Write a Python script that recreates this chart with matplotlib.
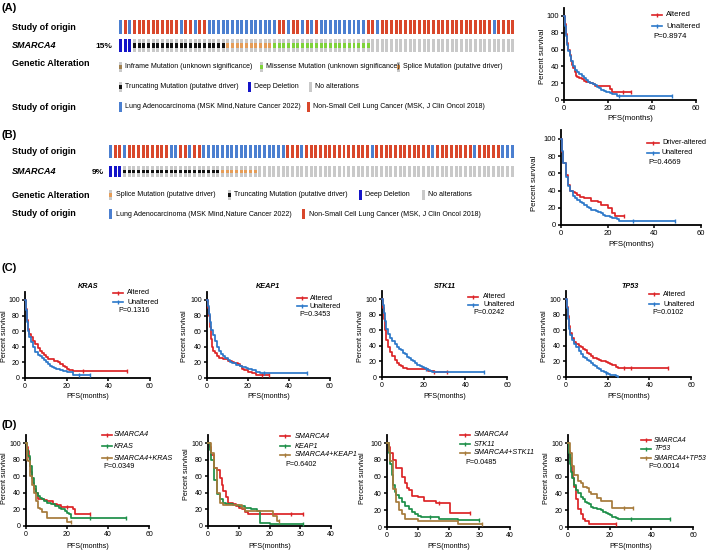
import numpy as np
import matplotlib
matplotlib.use('Agg')
import matplotlib.pyplot as plt

W, H = 709, 552
plt.rcParams['font.family'] = ['Liberation Sans', 'DejaVu Sans']
LEGFS = 5.0

RED = '#dc2326'
BLUE = '#2b78c9'
GREEN = '#1c8f48'
BROWN = '#a67a3a'

# ---------------- oncoprint data ----------------
A_study = list("BRBRRRRRRRRRRBRRBRRBBBBBBBBBBBBBBBRRBRRB"
               "RBRBBBBBBBBBBRRB" + "R" * 24 + "B" + "RRRR")
A_alt = ['D'] * 3 + ['T'] * 20 + ['S'] * 10 + ['M'] * 21 + ['N'] * 31
B_study = list("BRRBRRRRRRRRRBBRRBRRBBBBBBBBBBBBBBBBBBRRRBRRR"
               "RRRRRRRRRRRBRRRRRRRRRRRRBRRRRRRRRBRRRRRBBB")
B_alt = ['D'] * 3 + ['T'] * 21 + ['S'] * 8 + ['N'] * 55

STUDY_COL = {'B': '#4b7fd0', 'R': '#d9472b'}
ALT_BASE = {'D': '#1414c8', 'T': '#c9c9c9', 'S': '#c9c9c9', 'M': '#c9c9c9', 'N': '#c9c9c9'}
ALT_MID = {'T': '#111111', 'S': '#e59d58', 'M': '#7fd33a'}

# ---------------- survival data ----------------
A_alt_t = [0, 0.5, 1, 1.5, 2, 2.5, 3, 3.5, 4, 5, 5.5, 6, 7, 8, 9, 10, 11, 12, 13, 14, 21, 22, 30.5]
A_alt_s = [100, 90, 78, 68, 60, 53, 47, 42, 38, 33, 29, 27, 26, 25, 23, 22, 21, 20, 19, 17, 13, 10, 10]
A_alt_c = [27, 30.5]
A_una_t = [0, 0.5, 1, 1.5, 2, 2.5, 3, 4, 5, 6, 7, 8, 9, 10, 11, 12, 13, 14, 15, 16, 17, 18, 19, 20, 21, 22, 24, 49]
A_una_s = [100, 88, 76, 66, 58, 52, 46, 40, 36, 33, 31, 28, 26, 24, 22, 20, 19, 18, 16, 14, 12, 11, 10, 9, 8, 7, 5, 5]
A_una_c = [25, 49]

B_alt_t = [0, 0.5, 1, 2, 3, 4, 5, 6, 7, 8, 10, 13, 16, 17, 20, 22, 23, 27]
B_alt_s = [100, 85, 72, 58, 46, 40, 38, 37, 35, 33, 31, 28, 27, 23, 20, 14, 11, 11]
B_alt_c = [27]
B_una_t = [0, 0.5, 1, 2, 3, 4, 5, 6, 7, 8, 9, 10, 11, 12, 13, 14, 15, 16, 17, 18, 19, 20, 21, 22, 24, 25, 49]
B_una_s = [100, 86, 72, 56, 45, 39, 34, 31, 29, 27, 25, 23, 21, 20, 18, 17, 16, 15, 14, 12, 11, 10, 9, 8, 7, 5, 5]
B_una_c = [31, 49]

KRAS_alt_t = [0, 0.5, 1, 1.5, 2, 3, 4, 5, 6, 7, 8, 9, 10, 11, 12, 14, 16, 17, 18, 19, 20, 21, 23, 49]
KRAS_alt_s = [100, 88, 75, 63, 57, 52, 48, 43, 38, 35, 32, 30, 27, 25, 24, 22, 21, 18, 16, 14, 12, 10, 9, 9]
KRAS_alt_c = [28, 49]
KRAS_una_t = [0, 0.5, 1, 1.5, 2, 3, 4, 5, 6, 7, 8, 9, 10, 11, 12, 13, 14, 15, 16, 17, 18, 20, 23, 31]
KRAS_una_s = [100, 87, 72, 60, 52, 46, 40, 33, 30, 28, 26, 23, 20, 18, 16, 14, 13, 12, 11, 10, 9, 8, 4, 4]
KRAS_una_c = [26, 31]

KEAP1_alt_t = [0, 0.5, 1, 1.5, 2, 2.5, 3, 4, 5, 6, 8, 9, 10, 12, 13, 15, 16, 17, 18, 20, 22, 24, 30]
KEAP1_alt_s = [100, 90, 80, 65, 50, 40, 35, 32, 28, 26, 25, 24, 22, 20, 19, 18, 15, 12, 10, 8, 6, 4, 4]
KEAP1_alt_c = [27, 30]
KEAP1_una_t = [0, 0.5, 1, 1.5, 2, 3, 4, 5, 6, 7, 8, 9, 10, 11, 12, 14, 16, 17, 19, 20, 22, 24, 26, 49]
KEAP1_una_s = [100, 92, 82, 72, 62, 55, 47, 40, 35, 31, 28, 26, 23, 21, 19, 17, 15, 14, 13, 12, 10, 8, 7, 7]
KEAP1_una_c = [28, 49]

STK11_alt_t = [0, 0.5, 1, 1.5, 2, 3, 4, 5, 6, 7, 8, 9, 10, 11, 12, 21, 22, 25, 31]
STK11_alt_s = [100, 88, 75, 60, 48, 38, 32, 27, 22, 18, 16, 14, 12, 11, 10, 10, 8, 6, 6]
STK11_alt_c = [25, 31]
STK11_una_t = [0, 0.5, 1, 1.5, 2, 3, 4, 5, 6, 7, 8, 9, 10, 11, 12, 13, 14, 15, 16, 17, 18, 19, 20, 21, 22, 23, 24, 25, 49]
STK11_una_s = [100, 92, 82, 72, 62, 55, 50, 46, 42, 38, 36, 34, 31, 29, 26, 24, 22, 20, 18, 16, 14, 13, 12, 10, 9, 8, 7, 6, 6]
STK11_una_c = [21, 49]

TP53_alt_t = [0, 0.5, 1, 1.5, 2, 3, 4, 5, 6, 7, 8, 9, 10, 11, 12, 13, 14, 15, 16, 17, 18, 19, 20, 21, 22, 23, 24, 25, 49]
TP53_alt_s = [100, 90, 78, 66, 57, 50, 45, 42, 40, 38, 36, 34, 31, 29, 27, 25, 24, 23, 22, 21, 20, 19, 18, 17, 16, 15, 13, 11, 11]
TP53_alt_c = [28, 31, 49]
TP53_una_t = [0, 0.5, 1, 1.5, 2, 3, 4, 5, 6, 7, 8, 9, 10, 11, 12, 13, 14, 15, 16, 17, 18, 19, 20, 21, 22, 23, 24, 25]
TP53_una_s = [100, 88, 74, 62, 54, 47, 42, 38, 33, 29, 26, 24, 22, 20, 18, 16, 14, 12, 10, 8, 6, 5, 4, 3, 3, 2, 1, 0]
TP53_una_c = [19]

D1_sm_t = [0, 0.5, 1, 1.5, 2, 2.5, 3, 3.5, 4, 5, 6, 7, 9, 10, 13, 15, 17, 23, 24, 31]
D1_sm_s = [100, 95, 90, 82, 72, 65, 58, 52, 45, 40, 33, 32, 31, 30, 27, 25, 23, 20, 15, 15]
D1_sm_c = [20, 31]
D1_g_t = [0, 0.5, 1, 2, 3, 4, 5, 6, 7, 8, 9, 10, 12, 14, 16, 17, 19, 20, 21, 22, 49]
D1_g_s = [100, 92, 84, 72, 58, 48, 40, 36, 34, 32, 30, 28, 26, 24, 22, 20, 18, 16, 14, 10, 10]
D1_g_c = [31, 49]
D1_co_t = [0, 0.5, 1, 2, 3, 4, 5, 6, 7, 8, 10, 20, 22]
D1_co_s = [100, 80, 78, 60, 50, 40, 30, 22, 20, 17, 10, 5, 5]
D1_co_c = [22]

D2_sm_t = [0, 0.5, 1, 2, 3, 4, 4.5, 5, 6, 6.5, 8, 9, 10, 11, 12, 13, 31]
D2_sm_s = [100, 95, 85, 70, 67, 58, 50, 42, 35, 28, 26, 24, 22, 20, 17, 15, 15]
D2_sm_c = [27, 31]
D2_g_t = [0, 0.5, 1, 2, 3, 4, 5, 6, 8, 10, 12, 14, 16, 17, 20, 31]
D2_g_s = [100, 92, 80, 55, 38, 32, 28, 26, 25, 24, 22, 20, 18, 4, 3, 3]
D2_g_c = [31]
D2_co_t = [0, 1, 2, 3, 4, 5, 11, 12, 21, 22.5, 23]
D2_co_s = [100, 88, 70, 40, 28, 25, 22, 18, 12, 6, 6]
D2_co_c = [23]

D3_sm_t = [0, 0.5, 1, 2, 3, 5, 6, 6.5, 7, 8, 10, 12, 16, 20.5, 27]
D3_sm_s = [100, 95, 88, 80, 70, 60, 52, 46, 44, 37, 36, 31, 28, 17, 17]
D3_sm_c = [17, 27]
D3_g_t = [0, 0.5, 1, 1.5, 2, 2.5, 3, 4, 5, 6, 7, 8, 9, 10, 11, 17, 23, 30]
D3_g_s = [100, 88, 75, 62, 50, 42, 38, 35, 30, 25, 22, 18, 15, 13, 12, 10, 8, 8]
D3_g_c = [14, 30]
D3_co_t = [0, 0.5, 1, 2, 3, 4, 5, 6, 10, 23, 31]
D3_co_s = [100, 90, 78, 45, 30, 20, 15, 10, 7, 4, 4]
D3_co_c = [31]

D4_sm_t = [0, 0.5, 1, 1.5, 2, 2.5, 3, 4, 5, 6, 7, 8, 10, 23]
D4_sm_s = [100, 90, 82, 74, 66, 58, 48, 33, 22, 16, 9, 7, 3, 3]
D4_sm_c = [23]
D4_g_t = [0, 0.5, 1, 1.5, 2, 3, 4, 5, 6, 7, 8, 9, 10, 11, 12, 14, 15, 16, 17, 18, 19, 20, 21, 23, 24, 49]
D4_g_s = [100, 88, 75, 65, 58, 50, 44, 40, 36, 33, 30, 28, 27, 24, 23, 22, 21, 20, 18, 17, 15, 14, 12, 11, 9, 9]
D4_g_c = [30, 49]
D4_co_t = [0, 1, 2, 3, 5, 6, 7, 9, 10, 11, 14, 16, 21, 31]
D4_co_s = [100, 88, 73, 62, 55, 52, 48, 46, 42, 39, 35, 31, 23, 23]
D4_co_c = [27, 31]

P_A, P_B = 'P=0.8974', 'P=0.4669'
P_C = ['P=0.1316', 'P=0.3453', 'P=0.0242', 'P=0.0102']
P_D = ['P=0.0349', 'P=0.6402', 'P=0.0485', 'P=0.0014']
C_genes = ['KRAS', 'KEAP1', 'STK11', 'TP53']

# ---------------- figure ----------------
fig = plt.figure(figsize=(W / 100, H / 100), dpi=100)
ov = fig.add_axes([0, 0, 1, 1])
ov.set_xlim(0, W)
ov.set_ylim(H, 0)
ov.axis('off')


def txt(x, y, s, size=6, **kw):
    kw.setdefault('va', 'center')
    ov.text(x, y, s, fontsize=size, **kw)


def oncoprint(study, alt, x_first, pitch, row1, row2):
    n = len(study)
    left = x_first - pitch / 2
    right = x_first + (n - 0.5) * pitch
    ytop, ybot = row1[0] - 1, row2[1] + 1
    ax = fig.add_axes([left / W, 1 - ybot / H, (right - left) / W, (ybot - ytop) / H])
    ax.set_xlim(-0.5, n - 0.5)
    ax.set_ylim(ybot, ytop)
    ax.axis('off')
    idx = np.arange(n)
    ax.bar(idx, row1[1] - row1[0], bottom=row1[0], width=0.64,
           color=[STUDY_COL[c] for c in study], linewidth=0)
    idx2 = np.arange(len(alt))
    ax.bar(idx2, row2[1] - row2[0], bottom=row2[0], width=0.64,
           color=[ALT_BASE[a] for a in alt], linewidth=0)
    h = (row2[1] - row2[0]) / 3.2
    mid = (row2[0] + row2[1]) / 2
    for code, col in ALT_MID.items():
        sel = [i for i, a in enumerate(alt) if a == code]
        if sel:
            ax.bar(sel, h, bottom=mid - h / 2, width=0.64, color=col, linewidth=0)


def icon(x, y, base, mid=None, h=10, w=3):
    ov.add_patch(plt.Rectangle((x - w / 2, y - h / 2), w, h, color=base, lw=0))
    if mid is not None:
        ov.add_patch(plt.Rectangle((x - w / 2, y - h / 6), w, h / 3, color=mid, lw=0))


def km_axes(x0, x1, y100, y0, xmax, xticks, lab=5.5):
    ppu = (y0 - y100) / 100.0
    ytop = y0 - 110 * ppu
    ax = fig.add_axes([x0 / W, 1 - y0 / H, (x1 - x0) / W, (y0 - ytop) / H])
    ax.set_xlim(0, xmax)
    ax.set_ylim(0, 110)
    ax.patch.set_alpha(0)
    for s in ['top', 'right']:
        ax.spines[s].set_visible(False)
    for s in ['left', 'bottom']:
        ax.spines[s].set_linewidth(1.3)
    ax.set_yticks([0, 20, 40, 60, 80, 100])
    ax.set_xticks(xticks)
    ax.tick_params(direction='out', length=2.5, width=1.1, labelsize=lab, pad=1.2)
    return ax


def km(ax, t, s, c, color):
    t = np.asarray(t, float)
    s = np.asarray(s, float)
    ax.step(t, s, where='post', color=color, lw=1.25, clip_on=False, zorder=3)
    c = np.asarray(c, float)
    cy = s[np.searchsorted(t, c, side='right') - 1]
    ax.plot(c, cy, ls='none', marker='|', ms=3.4, mew=1.0, color=color, clip_on=False, zorder=3)


def legend(x_line, x_text, ys, labels, colors, size=5.2, italic=False, length=10):
    for y, lab, col in zip(ys, labels, colors):
        ov.plot([x_line, x_line + length], [y, y], color=col, lw=1.2)
        ov.plot([x_line + length / 2], [y], marker='|', ms=3, mew=1.0, color=col)
        txt(x_text, y, lab, size=size, style='italic' if italic else 'normal')


def labels(ax_x0, ax_x1, y_pfs, x_ps, y_ps, fs=5.2):
    txt((ax_x0 + ax_x1) / 2, y_pfs, 'PFS(months)', size=fs, ha='center')
    txt(x_ps, y_ps, 'Percent survival', size=fs, ha='center', rotation=90)


# ---------------- Panel A ----------------
txt(1, 8, '(A)', size=8, weight='bold')
txt(12, 27, 'Study of origin', size=6.5, weight='bold')
txt(12, 46, 'SMARCA4', size=6.5, weight='bold', style='italic')
txt(112, 46, '15%', size=6, weight='bold', ha='right')
txt(12, 64, 'Genetic Alteration', size=6.5, weight='bold')
txt(12, 107, 'Study of origin', size=6.5, weight='bold')
oncoprint(A_study, A_alt, 120.5, 4.67, (20, 34), (39, 52))

icon(120, 67, '#c9c9c9', '#a0804f')
txt(125, 67, 'Inframe Mutation (unknown significance)', size=LEGFS)
icon(261, 67, '#c9c9c9', '#7fd33a')
txt(266, 67, 'Missense Mutation (unknown significance)', size=LEGFS)
icon(398, 67, '#c9c9c9', '#e59d58')
txt(403, 67, 'Splice Mutation (putative driver)', size=LEGFS)
icon(120, 87, '#c9c9c9', '#111111')
txt(125, 87, 'Truncating Mutation (putative driver)', size=LEGFS)
icon(249, 87, '#1414c8')
txt(254, 87, 'Deep Deletion', size=LEGFS)
icon(310, 87, '#c9c9c9')
txt(315, 87, 'No alterations', size=LEGFS)
icon(120, 107, STUDY_COL['B'])
txt(125, 107, 'Lung Adenocarcinoma (MSK Mind,Nature Cancer 2022)', size=LEGFS)
icon(308, 107, STUDY_COL['R'])
txt(313, 107, 'Non-Small Cell Lung Cancer (MSK, J Clin Oncol 2018)', size=LEGFS)

axA = km_axes(564, 696, 16, 100, 60, [0, 20, 40, 60])
km(axA, A_alt_t, A_alt_s, A_alt_c, RED)
km(axA, A_una_t, A_una_s, A_una_c, BLUE)
legend(652, 666, [15, 26], ['Altered', 'Unaltered'], [RED, BLUE], size=5.6)
txt(653, 37, P_A, size=5.6)
labels(564, 696, 119, 543, 56, fs=5.6)

# ---------------- Panel B ----------------
txt(1, 135, '(B)', size=8, weight='bold')
txt(12, 151, 'Study of origin', size=6.5, weight='bold')
txt(12, 172, 'SMARCA4', size=6.5, weight='bold', style='italic')
txt(104, 172, '9%', size=6, weight='bold', ha='right')
txt(12, 195, 'Genetic Alteration', size=6.5, weight='bold')
txt(12, 214, 'Study of origin', size=6.5, weight='bold')
oncoprint(B_study, B_alt, 110.5, 4.67, (145, 158), (166, 177))

icon(110, 195, '#c9c9c9', '#e59d58')
txt(116, 195, 'Splice Mutation (putative driver)', size=LEGFS)
icon(229, 195, '#c9c9c9', '#111111')
txt(234, 195, 'Truncating Mutation (putative driver)', size=LEGFS)
icon(360, 195, '#1414c8')
txt(365, 195, 'Deep Deletion', size=LEGFS)
icon(423, 195, '#c9c9c9')
txt(428, 195, 'No alterations', size=LEGFS)
icon(110, 214, STUDY_COL['B'])
txt(116, 214, 'Lung Adenocarcinoma (MSK Mind,Nature Cancer 2022)', size=LEGFS)
icon(303, 214, STUDY_COL['R'])
txt(309, 214, 'Non-Small Cell Lung Cancer (MSK, J Clin Oncol 2018)', size=LEGFS)

axB = km_axes(561, 701, 139, 225, 60, [0, 20, 40, 60])
km(axB, B_alt_t, B_alt_s, B_alt_c, RED)
km(axB, B_una_t, B_una_s, B_una_c, BLUE)
legend(647, 662, [143, 153], ['Driver-altered', 'Unaltered'], [RED, BLUE], size=5.2, length=12)
txt(648, 163, P_B, size=5.4)
labels(561, 701, 245, 535, 183, fs=5.6)

# ---------------- Panel C ----------------
txt(1, 268, '(C)', size=8, weight='bold')
C_x = [(25, 150), (207, 330), (382, 507), (566, 691)]
C_y = [(300, 378), (300, 378), (299, 377), (299, 377)]
C_data = [(KRAS_alt_t, KRAS_alt_s, KRAS_alt_c, KRAS_una_t, KRAS_una_s, KRAS_una_c),
          (KEAP1_alt_t, KEAP1_alt_s, KEAP1_alt_c, KEAP1_una_t, KEAP1_una_s, KEAP1_una_c),
          (STK11_alt_t, STK11_alt_s, STK11_alt_c, STK11_una_t, STK11_una_s, STK11_una_c),
          (TP53_alt_t, TP53_alt_s, TP53_alt_c, TP53_una_t, TP53_una_s, TP53_una_c)]
C_leg = [(113, 127, 293, 302, 118, 310), (297, 310, 298, 306, 299, 314),
         (468, 483, 297, 305, 473, 313), (649, 663, 294, 304, 652, 312)]
C_ps = [5, 185, 360, 545]
C_title_x = [88, 268, 445, 630]
for i in range(4):
    (x0, x1), (y100, y0) = C_x[i], C_y[i]
    ax = km_axes(x0, x1, y100, y0, 60, [0, 20, 40, 60], lab=5)
    at, as_, ac, ut, us, uc = C_data[i]
    km(ax, at, as_, ac, RED)
    km(ax, ut, us, uc, BLUE)
    lx, tx, ya, yu, px, py = C_leg[i]
    legend(lx, tx, [ya, yu], ['Altered', 'Unaltered'], [RED, BLUE], size=5.2)
    txt(px, py, P_C[i], size=5.2)
    txt(C_title_x[i], 287, C_genes[i], size=5.2, weight='bold', style='italic', ha='center')
    labels(x0, x1, 397, C_ps[i], 336, fs=5.2)

# ---------------- Panel D ----------------
txt(1, 425, '(D)', size=8, weight='bold')
D_x = [(26, 149, 60), (208, 331, 40), (387, 510, 40), (568, 693, 60)]
D_y = [(443, 526), (443, 526), (443, 527), (443, 527)]
D_data = [
    ((D1_sm_t, D1_sm_s, D1_sm_c), (D1_g_t, D1_g_s, D1_g_c), (D1_co_t, D1_co_s, D1_co_c)),
    ((D2_sm_t, D2_sm_s, D2_sm_c), (D2_g_t, D2_g_s, D2_g_c), (D2_co_t, D2_co_s, D2_co_c)),
    ((D3_sm_t, D3_sm_s, D3_sm_c), (D3_g_t, D3_g_s, D3_g_c), (D3_co_t, D3_co_s, D3_co_c)),
    ((D4_sm_t, D4_sm_s, D4_sm_c), (D4_g_t, D4_g_s, D4_g_c), (D4_co_t, D4_co_s, D4_co_c)),
]
D_leg = [(102, 114, [435, 446, 458], 103, 467), (280, 295, [436, 446, 455], 285, 464),
         (460, 474, [435, 444, 453], 465, 462), (641, 654, [440, 449, 458], 648, 467)]
D_ps = [5, 187, 363, 547]
D_ps_y = [478, 474, 478, 478]
D_fs = [5.2, 5.2, 5.2, 4.9]
for i in range(4):
    x0, x1, xm = D_x[i]
    y100, y0 = D_y[i]
    ticks = [0, 20, 40, 60] if xm == 60 else [0, 10, 20, 30, 40]
    ax = km_axes(x0, x1, y100, y0, xm, ticks, lab=5)
    for (t, s, c), col in zip(D_data[i], [RED, GREEN, BROWN]):
        km(ax, t, s, c, col)
    g = C_genes[i]
    lx, tx, ys, px, py = D_leg[i]
    legend(lx, tx, ys, ['SMARCA4', g, 'SMARCA4+' + g], [RED, GREEN, BROWN], size=D_fs[i], italic=True)
    txt(px, py, P_D[i], size=5.2)
    labels(x0, x1, 547, D_ps[i], D_ps_y[i], fs=5.2)

fig.savefig('out.png', dpi=100)
